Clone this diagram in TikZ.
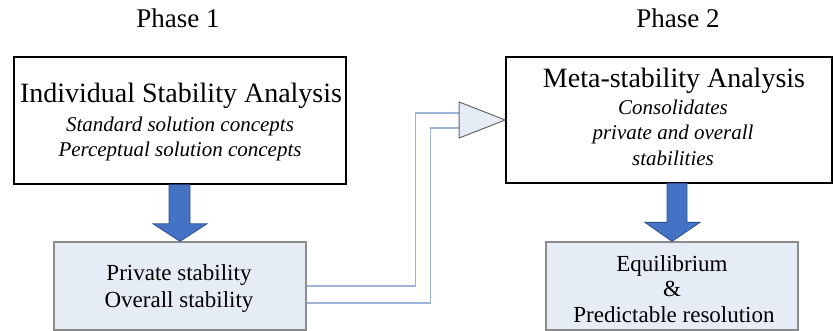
\documentclass[tikz,border=0pt]{standalone}
\usepackage{fontspec}
\setmainfont{Liberation Serif}
\usetikzlibrary{calc}
\definecolor{lightfill}{HTML}{E6ECF6}
\definecolor{arrowblue}{HTML}{4472C4}
\definecolor{arrowedge}{HTML}{2F528F}
\definecolor{connblue}{HTML}{9DB3D9}
\tikzset{
  mainbox/.style={draw=black, line width=1.6pt, fill=white, inner sep=0pt},
  resbox/.style={draw=gray!90, line width=1.2pt, fill=lightfill, inner sep=0pt},
  blockarrow/.style={fill=arrowblue, draw=arrowedge, line width=0.8pt, line join=miter},
  conn/.style={draw=connblue, line width=1.2pt},
  tri/.style={fill=lightfill, draw=gray!80!black, line width=1pt, line join=miter},
  phase/.style={font=\fontsize{27}{30}\selectfont, anchor=base, inner sep=0pt},
  title/.style={font=\fontsize{28}{30}\selectfont, anchor=base, inner sep=0pt},
  ital/.style={font=\fontsize{21}{25}\selectfont\itshape, anchor=base, inner sep=0pt},
  res/.style={font=\fontsize{23}{26}\selectfont, anchor=base, inner sep=0pt}
}
\begin{document}
\begin{tikzpicture}[x=1pt,y=-1pt]
\useasboundingbox (0,0) rectangle (833,331);
% boxes
\node[mainbox, minimum width=332pt, minimum height=127pt] (b1) at (180,120.5) {};
\node[mainbox, minimum width=326pt, minimum height=126pt] (b3) at (669,120) {};
\node[resbox, minimum width=252pt, minimum height=88pt] (b2) at (180,286) {};
\node[resbox, minimum width=252pt, minimum height=88pt] (b4) at (672,286) {};
% phase titles
\node[phase] (p1) at (178,28) {Phase 1};
\node[phase] (p2) at (678,28) {Phase 2};
% texts box 1
\node[title] (t1a) at (181,103) {Individual Stability Analysis};
\node[ital] (t1b) at (180,132) {Standard solution concepts};
\node[ital] (t1c) at (180,157) {Perceptual solution concepts};
% texts box 3
\node[title] (t3a) at (674,88) {Meta-stability Analysis};
\node[ital] (t3b) at (673,115) {Consolidates};
\node[ital] (t3c) at (673,140) {private and overall};
\node[ital] (t3d) at (673,166) {stabilities};
% texts box 2
\node[res] (t2a) at (179,280) {Private stability};
\node[res] (t2b) at (179,307) {Overall stability};
% texts box 4
\node[res] (t4a) at (672,272) {Equilibrium};
\node[res] (t4b) at (672,297) {\&};
\node[res] (t4c) at (674,323) {Predictable resolution};
% block arrows
\draw[blockarrow] ($(b1.south)+(-11,0)$) -- ($(b1.south)+(10,0)$) -- ($(b1.south)+(10,39)$)
  -- ($(b1.south)+(27,39)$) -- (b2.north) -- ($(b1.south)+(-27,39)$) -- ($(b1.south)+(-11,39)$) -- cycle;
\draw[blockarrow] ($(b4.north)+(-5,-58)$) -- ($(b4.north)+(15,-58)$) -- ($(b4.north)+(15,-19)$)
  -- ($(b4.north)+(28,-19)$) -- (b4.north) -- ($(b4.north)+(-27,-19)$) -- ($(b4.north)+(-5,-19)$) -- cycle;
% connector to meta-stability
\coordinate (tip) at (b3.west);
\coordinate (tb) at ($(tip)+(-46,-18)$);
\coordinate (tc) at ($(tip)+(-46,18)$);
\coordinate (in1) at ($(tip)+(-46,-7)$);
\coordinate (in2) at ($(tip)+(-46,8)$);
\draw[conn] (b2.east) -- ($(b2.east)+(109,0)$) |- (in1);
\draw[conn] ($(b2.east)+(0,17)$) -- ($(b2.east)+(124,17)$) |- (in2);
\draw[tri] (tb) -- (tip) -- (tc) -- cycle;
\end{tikzpicture}
\end{document}
